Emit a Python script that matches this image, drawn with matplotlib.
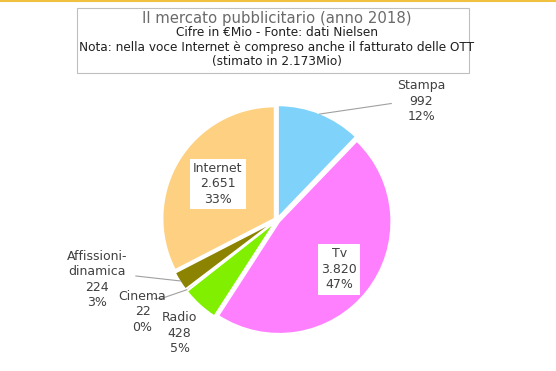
import numpy as np
import matplotlib
matplotlib.use("Agg")
import matplotlib.pyplot as plt
from matplotlib.patches import Rectangle

# dati (milioni di euro)
categories = ["Stampa", "Tv", "Radio", "Cinema", "Affissioni-\ndinamica", "Internet"]
values = [992, 3820, 428, 22, 224, 2651]
values_txt = ["992", "3.820", "428", "22", "224", "2.651"]
percents = ["12%", "47%", "5%", "0%", "3%", "33%"]
colors = ["#7fd3fb", "#ff80ff", "#80f000", "#c0504d", "#8c8400", "#fdd181"]

title_lines = ["Il mercato pubblicitario (anno 2018)",
               "Cifre in €Mio - Fonte: dati Nielsen",
               "Nota: nella voce Internet è compreso anche il fatturato delle OTT",
               "(stimato in 2.173Mio)"]

fig = plt.figure(figsize=(5.56, 3.71), dpi=100)
fig.patch.set_facecolor("white")

# pie centre ~ (277, 220) px, radius ~ 112 px
W, H = 556, 371
cx, cy, r = 277, 220, 112
ax = fig.add_axes([(cx - r) / W, (H - cy - r) / H, 2 * r / W, 2 * r / H])
wedges, _ = ax.pie(values, colors=colors, startangle=90, counterclock=False,
                   explode=[0.025] * len(values),
                   wedgeprops=dict(edgecolor="white", linewidth=1.2))
ax.set_xlim(-1, 1)
ax.set_ylim(-1, 1)
ax.set_aspect("equal")
ax.axis("off")

txtc = "#404040"
labels = [f"{c}\n{v}\n{p}" for c, v, p in zip(categories, values_txt, percents)]

def wedge_point(w, rr):
    ang = np.deg2rad((w.theta1 + w.theta2) / 2)
    return rr * np.cos(ang), rr * np.sin(ang)

# inside labels (Tv, Internet)
for i, rr in [(1, 0.71), (5, 0.62)]:
    x, y = wedge_point(wedges[i], rr)
    ax.text(x, y, labels[i], ha="center", va="center", fontsize=9, color=txtc,
            linespacing=1.25,
            bbox=dict(boxstyle="square,pad=0.25", fc="white", ec="none"))

# outside labels: (index, text pos, line end)
outside = [(0, (1.29, 1.06), (1.02, 1.04)),
           (2, (-0.87, -1.01), None),
           (3, (-1.20, -0.82), (-1.03, -0.70)),
           (4, (-1.61, -0.53), (-1.26, -0.50))]
for i, tpos, lend in outside:
    ax.text(tpos[0], tpos[1], labels[i], ha="center", va="center", fontsize=9,
            color=txtc, linespacing=1.25, clip_on=False)
    if lend is not None:
        sx, sy = wedge_point(wedges[i], 1.02)
        ax.plot([sx, lend[0]], [sy, lend[1]], color="#a0a0a0", lw=0.8,
                clip_on=False)
# small horizontal tail for Cinema
ax.plot([-1.03, -1.1], [-0.70, -0.70], color="#a0a0a0", lw=0.8, clip_on=False)

# title box
fig.patches.append(Rectangle((77 / W, 1 - 73 / H), (469 - 77) / W, 65 / H,
                             transform=fig.transFigure, fc="white",
                             ec="#bfbfbf", lw=0.8))
fig.text(277 / W, 1 - 19 / H, title_lines[0], ha="center", va="center",
         fontsize=10.7, color="#6a6a6a")
for k, line in enumerate(title_lines[1:]):
    fig.text(277 / W, 1 - (33 + 14.5 * k) / H, line, ha="center", va="center",
             fontsize=8.7, color="#202020")

# yellow top border
fig.add_artist(plt.Line2D([0, 1], [1 - 0.5 / H, 1 - 0.5 / H],
                          transform=fig.transFigure, color="#f0c040", lw=1.5))

fig.savefig("out.png", dpi=100)
